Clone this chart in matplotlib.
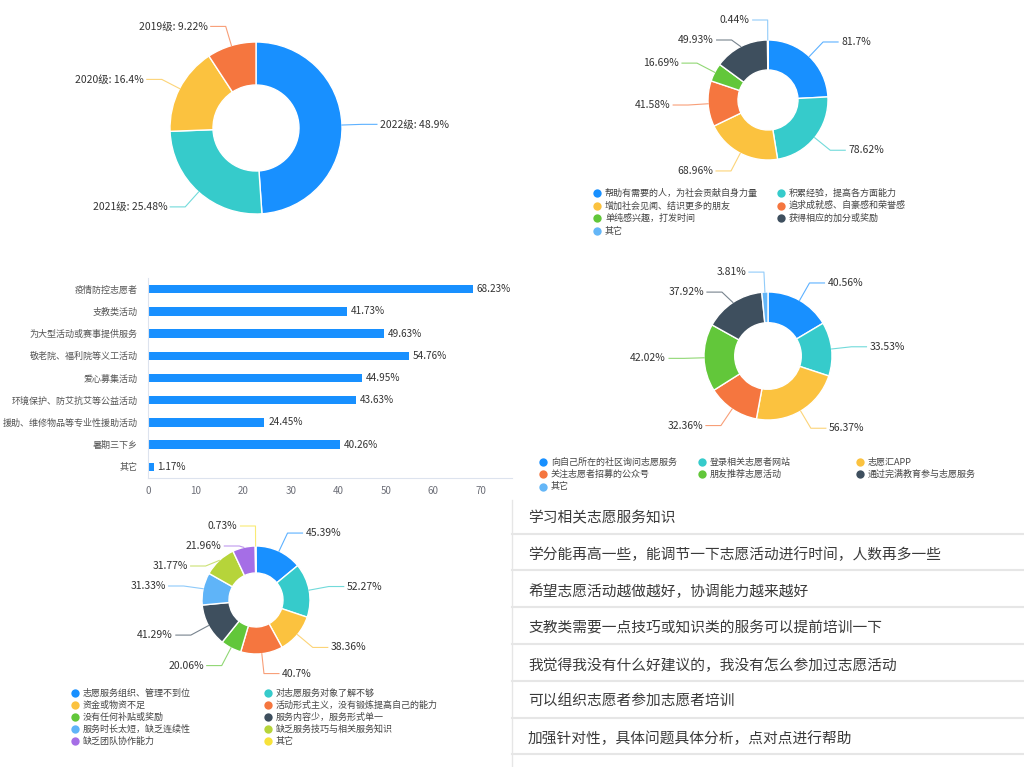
import numpy as np
import matplotlib.pyplot as plt

plt.rcParams['font.family'] = ['Noto Sans CJK SC', 'DejaVu Sans']

W, H = 1024, 767

# ---- data ----
grade_names = ['2022级', '2021级', '2020级', '2019级']
grade_vals = [48.9, 25.48, 16.4, 9.22]

motive_names = ['帮助有需要的人，为社会贡献自身力量', '积累经验，提高各方面能力',
                '增加社会见闻、结识更多的朋友', '追求成就感、自豪感和荣誉感',
                '单纯感兴趣，打发时间', '获得相应的加分或奖励', '其它']
motive_vals = [81.7, 78.62, 68.96, 41.58, 16.69, 49.93, 0.44]

activity_names = ['疫情防控志愿者', '支教类活动', '为大型活动或赛事提供服务',
                  '敬老院、福利院等义工活动', '爱心募集活动', '环境保护、防艾抗艾等公益活动',
                  '援助、维修物品等专业性援助活动', '暑期三下乡', '其它']
activity_vals = [68.23, 41.73, 49.63, 54.76, 44.95, 43.63, 24.45, 40.26, 1.17]

channel_names = ['向自己所在的社区询问志愿服务', '登录相关志愿者网站', '志愿汇APP',
                 '关注志愿者招募的公众号', '朋友推荐志愿活动', '通过完满教育参与志愿服务', '其它']
channel_vals = [40.56, 33.53, 56.37, 32.36, 42.02, 37.92, 3.81]

problem_names = ['志愿服务组织、管理不到位', '对志愿服务对象了解不够', '资金或物资不足',
                 '活动形式主义，没有锻炼提高自己的能力', '没有任何补贴或奖励', '服务内容少，服务形式单一',
                 '服务时长太短，缺乏连续性', '缺乏服务技巧与相关服务知识', '缺乏团队协作能力', '其它']
problem_vals = [45.39, 52.27, 38.36, 40.7, 20.06, 41.29, 31.33, 31.77, 21.96, 0.73]

suggestions = ['学习相关志愿服务知识',
               '学分能再高一些，能调节一下志愿活动进行时间，人数再多一些',
               '希望志愿活动越做越好，协调能力越来越好',
               '支教类需要一点技巧或知识类的服务可以提前培训一下',
               '我觉得我没有什么好建议的，我没有怎么参加过志愿活动',
               '可以组织志愿者参加志愿者培训',
               '加强针对性，具体问题具体分析，点对点进行帮助']

palette = ['#1890FF', '#36CBCB', '#FBC23F', '#F5763F', '#62C73A', '#3E4F5E',
           '#5FB4F8', '#B6D43A', '#A56EE6', '#F7E23A']
grade_colors = ['#1890FF', '#36CBCB', '#FBC23F', '#F5763F']
motive_colors = palette[:6] + ['#64B6F7']
channel_colors = palette[:6] + ['#64B6F7']
problem_colors = palette[:6] + ['#5FB4F8', '#B6D43A', '#A56EE6', '#F7E23A']

TXT = '#333333'

fig = plt.figure(figsize=(W / 100, H / 100), dpi=100)
canvas = fig.add_axes([0, 0, 1, 1])
canvas.set_xlim(0, W)
canvas.set_ylim(H, 0)
canvas.axis('off')


def px_axes(x0, y0, w, h):
    return fig.add_axes([x0 / W, 1 - (y0 + h) / H, w / W, h / H])


def donut(cx, cy, R, vals, colors, labels, inner=0.5, fs=7.5, l1=20, l2=15):
    ax = px_axes(cx - R, cy - R, 2 * R, 2 * R)
    wedges, _ = ax.pie(vals, colors=colors, startangle=90, counterclock=False,
                       wedgeprops=dict(width=1 - inner, edgecolor='white', linewidth=1))
    ax.set_xlim(-1, 1)
    ax.set_ylim(-1, 1)
    ax.axis('off')
    gap = 20 / R
    pts = []
    for w, lab in zip(wedges, labels):
        a = np.deg2rad((w.theta1 + w.theta2) / 2)
        x, y = np.cos(a), np.sin(a)
        r2 = 1 + l1 / R
        pts.append([x, y, x * r2, y * r2, 1 if x >= 0 else -1, lab, w.get_facecolor()])
    # push labels apart on each side, like echarts does
    for side in (1, -1):
        grp = sorted([p for p in pts if p[4] == side], key=lambda p: -p[3])
        for i in range(1, len(grp)):
            grp[i][3] = min(grp[i][3], grp[i - 1][3] - gap)
    for x, y, ex, ey, s, lab, c in pts:
        hx = ex + s * l2 / R
        ax.plot([x, ex, hx], [y, ey, ey], color=c, lw=0.8, alpha=0.7, clip_on=False)
        ax.text(hx + s * 3 / R, ey, lab, ha='left' if s > 0 else 'right', va='center',
                fontsize=fs, color=TXT, clip_on=False)
    return ax


def legend(names, colors, xs, y0, dy, fs=6.5):
    n = len(xs)
    for i, (nm, c) in enumerate(zip(names, colors)):
        x = xs[i % n]
        y = y0 + (i // n) * dy
        canvas.plot(x, y, 'o', ms=6, color=c, mec='none')
        canvas.text(x + 8, y, nm, fontsize=fs, color='#444444', va='center', ha='left')


# panel 1: grades
donut(256, 128, 86, grade_vals, grade_colors,
      [f'{n}: {v:g}%' for n, v in zip(grade_names, grade_vals)])

# panel 2: motives
donut(768, 100, 60, motive_vals, motive_colors, [f'{v:g}%' for v in motive_vals])
legend(motive_names, motive_colors, [597, 781], 193, 12.7)

# panel 3: activities bar chart
axb = px_axes(148, 278, 364, 200)
ypos = np.arange(len(activity_vals))
axb.barh(ypos, activity_vals, height=0.38, color='#1890FF')
for yy, v in zip(ypos, activity_vals):
    axb.text(v + 0.8, yy, f'{v:g}%', va='center', ha='left', fontsize=7.2, color=TXT)
axb.set_xlim(0, 76.5)
axb.set_ylim(len(activity_vals) - 0.5, -0.5)
axb.set_yticks(ypos)
axb.set_yticklabels(activity_names)
axb.set_xticks(range(0, 71, 10))
axb.tick_params(axis='y', length=0, pad=7.5, labelsize=6.5, labelcolor='#555555')
axb.tick_params(axis='x', length=0, pad=6, labelsize=7, labelcolor='#6E7079')
for sp in ('top', 'right'):
    axb.spines[sp].set_visible(False)
for sp in ('left', 'bottom'):
    axb.spines[sp].set_color('#DDE3EE')
axb.set_facecolor('none')

# panel 4: channels
donut(768, 356, 64, channel_vals, channel_colors, [f'{v:g}%' for v in channel_vals],
      inner=0.52)
legend(channel_names, channel_colors, [543, 702, 860], 462, 12.3)

# panel 5: problems
donut(256, 600, 54, problem_vals, problem_colors, [f'{v:g}%' for v in problem_vals])
legend(problem_names, problem_colors, [75, 268], 693, 12)

# panel 6: suggestions list
canvas.plot([512, 512], [500, H], color='#E6E6E6', lw=1)
row_h = 36.8
for i, s in enumerate(suggestions):
    yc = 518 + i * row_h
    canvas.text(528, yc, s, fontsize=10.6, color='#3A3A3A', va='center', ha='left')
    canvas.plot([512, W], [yc + 15.5, yc + 15.5], color='#E6E6E6', lw=1.5)

fig.savefig('out.png', dpi=100)
